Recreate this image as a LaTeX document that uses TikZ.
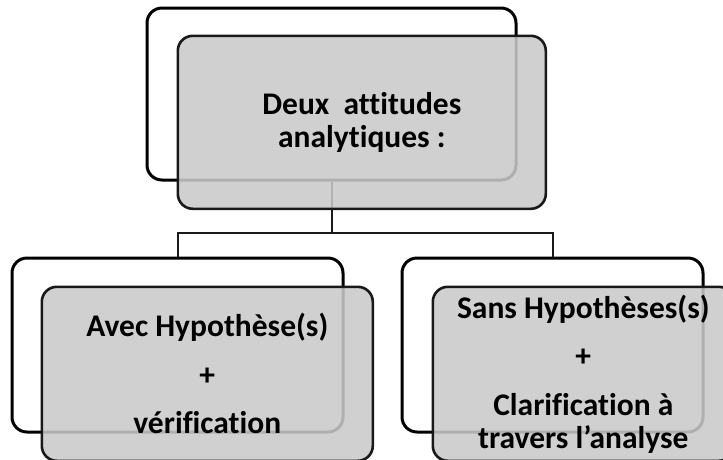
\documentclass[tikz,border=0pt]{standalone}
\usepackage{fontspec}
\setmainfont{Carlito}[Ligatures=NoCommon]
\definecolor{boxgray}{RGB}{201,201,201}

\begin{document}
\begin{tikzpicture}[
  x=1pt, y=-1pt,
  backblock/.style={
    rectangle,
    rounded corners=15pt,
    line width=3pt,
    draw=black,
    inner sep=0pt
  },
  frontblock/.style={
    rectangle,
    rounded corners=15pt,
    line width=2.6pt,
    draw=black!90,
    fill=boxgray,
    fill opacity=0.875,
    text opacity=1,
    text=black,
    inner sep=0pt,
    align=center,
    font=\fontsize{31.5}{33}\selectfont\bfseries
  },
  link/.style={
    line width=2pt,
    draw=black!90
  }]
  \clip (0,0) rectangle (723,459);
  % back frames
  \node[backblock, minimum width=369pt, minimum height=172pt] (topback) at (331.5,94) {};
  \node[backblock, minimum width=331pt, minimum height=174pt] (leftback) at (177.5,345) {};
  \node[backblock, minimum width=301pt, minimum height=174pt] (rightback) at (552.5,345) {};
  % connectors
  \coordinate (split) at (331.5,233);
  \draw[link] (topback.south) -- (split) -| (leftback.north);
  \draw[link] (split) -| (rightback.north);
  % front blocks
  \node[frontblock, anchor=north west, minimum width=368pt, minimum height=173pt]
    (topfront) at ([shift={(31,28)}]topback.north west)
    {Deux\ \ attitudes\\ analytiques :};
  \node[frontblock, anchor=north west, minimum width=331pt, minimum height=174pt]
    (leftfront) at ([shift={(30,29)}]leftback.north west)
    {Avec Hypothèse(s)\\[15.5pt] +\\[15.5pt] vérification};
  \node[frontblock, anchor=north west, minimum width=301pt, minimum height=174pt]
    (rightfront) at ([shift={(31,29)}]rightback.north west)
    {Sans Hypothèses(s)\\[15.5pt] +\\[15.5pt] Clarification à\\ travers l’analyse};
\end{tikzpicture}
\end{document}
